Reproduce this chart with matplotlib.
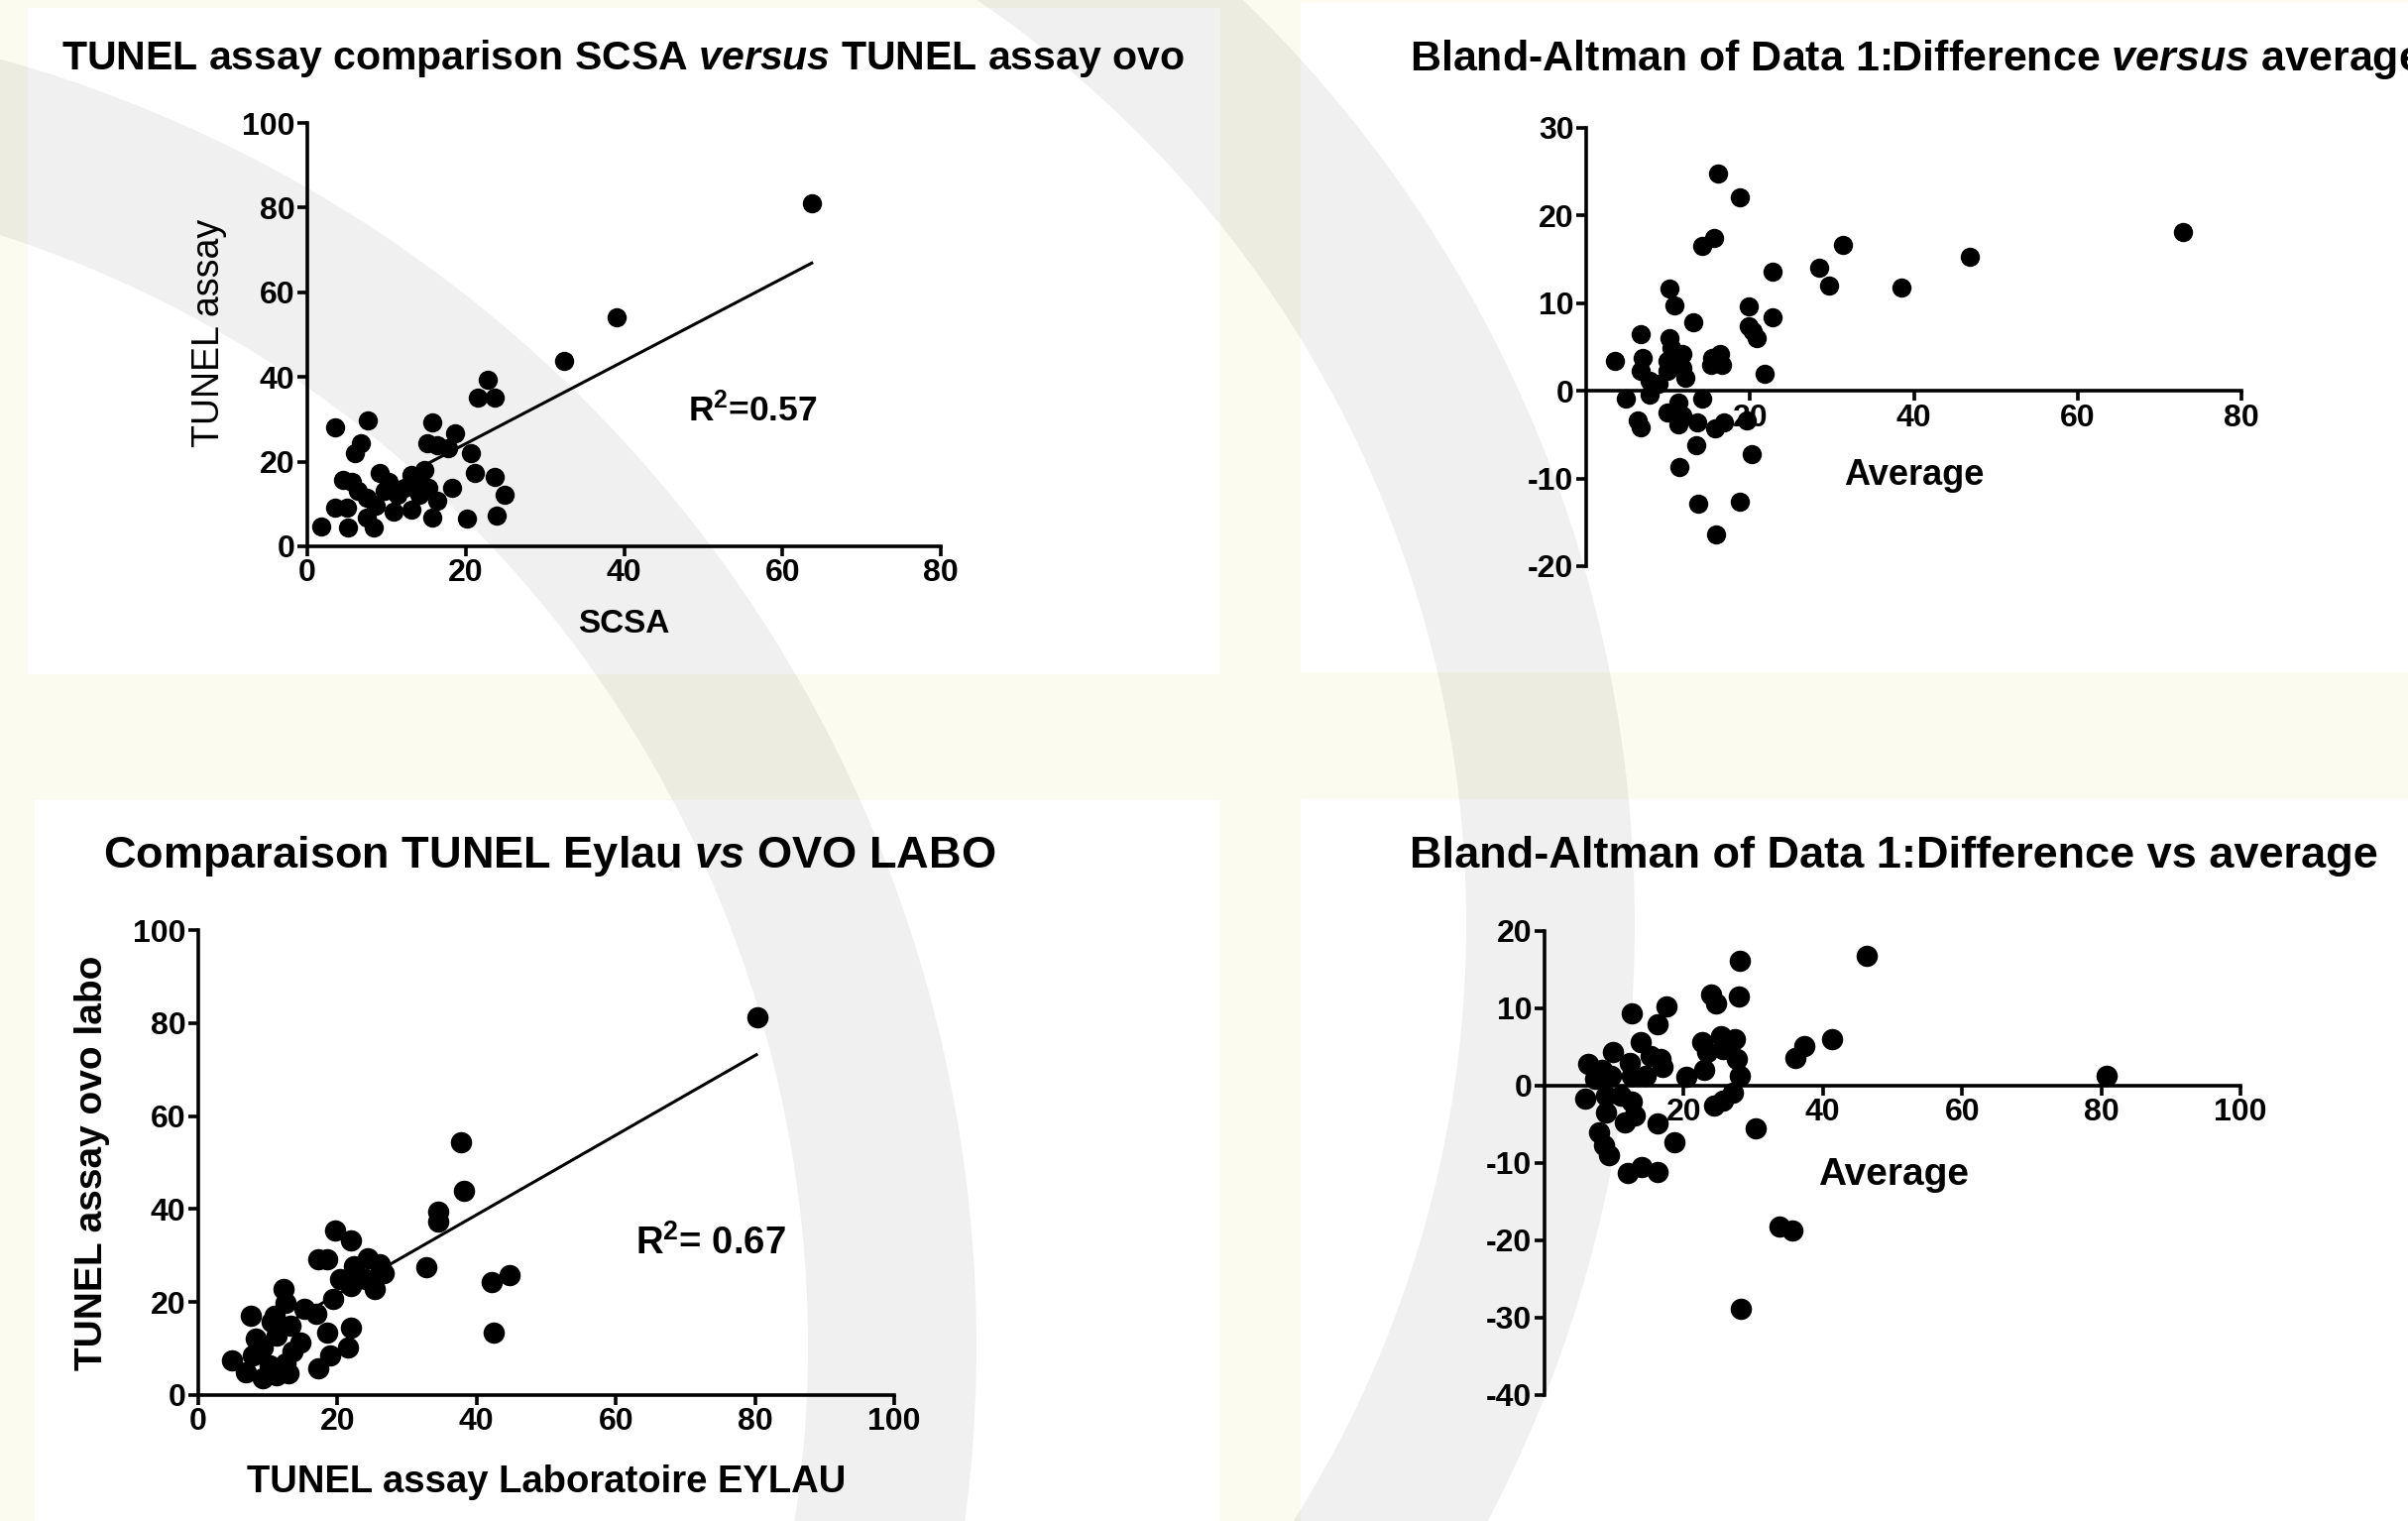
import numpy as np
import matplotlib
matplotlib.use('Agg')
import matplotlib.pyplot as plt
from matplotlib.patches import Rectangle, Wedge
from matplotlib.transforms import IdentityTransform

plt.rcParams['font.family'] = ['Liberation Sans', 'DejaVu Sans']
plt.rcParams['font.weight'] = 'bold'
plt.rcParams['mathtext.fontset'] = 'custom'
plt.rcParams['mathtext.rm'] = 'Liberation Sans:bold'
plt.rcParams['mathtext.it'] = 'Liberation Sans:italic:bold'
plt.rcParams['mathtext.default'] = 'regular'
plt.rcParams['axes.unicode_minus'] = False

# --- panel 1 : SCSA vs TUNEL assay ovo
scsa = [63.7, 39.0, 32.4, 22.8, 21.5, 23.7, 3.5, 7.6, 6.8, 6.0, 15.8, 18.6, 15.2, 16.4,
        17.8, 20.6, 21.2, 23.6, 24.9, 23.9, 20.2, 18.3, 14.8, 13.1, 4.5, 5.6, 9.2, 3.5,
        1.7, 5.1, 8.4, 7.5, 10.9, 13.1, 15.8, 16.4, 14.2, 11.4, 9.8, 7.5, 6.4, 5.0, 8.6,
        12.3, 13.7, 15.3, 10.3]
tunel_ovo = [81.1, 54.1, 43.7, 39.3, 35.2, 35.2, 28.2, 29.7, 24.3, 21.9, 29.3, 26.8, 24.3, 23.9,
             23.1, 22.1, 17.3, 16.3, 12.2, 7.2, 6.6, 13.8, 18.1, 16.9, 15.7, 15.3, 17.3, 9.1,
             4.8, 4.4, 4.4, 6.8, 8.3, 8.7, 6.8, 10.7, 12.2, 12.2, 13.0, 11.4, 13.0, 9.1, 9.5,
             13.8, 15.3, 13.8, 15.3]
fit1_x = [13.0, 63.7]
fit1_y = [17.4, 66.9]

# --- panel 2 : Bland-Altman 1
avg1 = [16.1, 18.8, 72.8, 15.6, 14.2, 31.3, 46.8, 28.5, 22.8, 29.7, 38.5, 10.2, 10.8, 19.8,
        22.8, 13.1, 19.9, 20.3, 20.8, 6.6, 10.2, 3.5, 6.9, 6.6, 10.4, 11.8, 9.9, 11.8, 9.9,
        12.1, 7.7, 8.8, 16.3, 15.4, 15.2, 16.6, 21.8, 7.7, 4.9, 14.1, 11.3, 9.9, 11.8, 6.3,
        6.7, 11.3, 13.5, 15.7, 16.8, 19.6, 13.4, 20.2, 11.4, 13.7, 18.8, 15.8]
diff1 = [24.8, 22.1, 18.1, 17.5, 16.5, 16.6, 15.3, 14.1, 13.6, 12.0, 11.8, 11.7, 9.8, 9.6,
         8.4, 7.8, 7.4, 6.8, 6.0, 6.5, 6.0, 3.4, 3.8, 2.3, 4.9, 4.2, 3.4, 2.6, 2.3,
         1.5, 1.1, 0.8, 4.2, 3.8, 3.0, 3.0, 1.9, -0.4, -0.9, -0.9, -1.3, -2.5, -2.8, -3.4,
         -4.2, -3.8, -3.6, -4.3, -3.6, -3.4, -6.2, -7.2, -8.7, -12.9, -12.6, -16.4]

# --- panel 3 : TUNEL Eylau vs OVO labo
eylau = [80.3, 37.8, 38.2, 34.5, 34.5, 32.8, 42.1, 44.8, 42.5, 19.6, 21.9, 18.5, 17.3, 24.4,
         26.1, 26.7, 22.4, 20.4, 24.1, 25.4, 22.0, 19.4, 12.3, 12.6, 15.3, 17.0, 7.6, 11.0,
         18.5, 21.9, 21.5, 19.0, 17.2, 4.9, 6.9, 8.3, 9.3, 11.3, 14.7, 13.6, 10.3, 11.3,
         13.0, 12.6, 9.3, 7.9, 13.3, 10.6]
ovo_labo = [81.3, 54.3, 43.9, 39.5, 37.4, 27.4, 24.4, 25.8, 13.4, 35.4, 33.3, 29.3, 29.3, 29.5,
            28.1, 26.3, 27.8, 24.9, 24.9, 22.8, 23.5, 20.6, 22.8, 19.9, 18.5, 17.4, 17.1, 17.1,
            13.5, 14.6, 10.3, 8.5, 5.7, 7.5, 5.0, 12.1, 10.3, 12.8, 11.4, 9.3, 6.4, 4.3,
            4.6, 6.8, 3.6, 8.5, 14.9, 15.7]
fit3_x = [12.0, 80.2]
fit3_y = [14.8, 73.2]

# --- panel 4 : Bland-Altman 2
avg2 = [28.0, 46.3, 27.9, 24.0, 24.7, 17.5, 12.6, 16.3, 13.8, 41.3, 37.3, 36.1, 80.8, 22.7,
        25.4, 27.4, 23.3, 25.7, 27.7, 28.0, 23.0, 20.3, 16.6, 15.3, 16.9, 9.9, 6.2, 8.2,
        12.2, 12.6, 14.6, 7.2, 9.5, 5.9, 8.9, 27.0, 24.3, 25.7, 12.6, 12.9, 11.6, 8.9,
        16.3, 30.3, 18.6, 7.9, 8.5, 9.2, 11.9, 13.9, 16.3, 33.8, 35.6, 28.2, 10.9]
diff2 = [16.2, 16.8, 11.6, 11.8, 10.7, 10.3, 9.4, 7.9, 5.6, 6.0, 5.1, 3.6, 1.3, 5.6,
         6.4, 6.0, 4.3, 4.7, 3.4, 1.3, 2.1, 1.1, 3.4, 3.8, 2.4, 4.3, 2.8, 2.1,
         3.0, 1.3, 1.3, 0.9, 1.3, -1.7, -1.3, -0.9, -2.6, -1.9, -2.1, -3.8, -4.7, -3.4,
         -4.9, -5.5, -7.3, -6.0, -7.7, -9.0, -11.3, -10.5, -11.2, -18.2, -18.7, -28.9, -1.3]

W, H = 2429, 1534
fig = plt.figure(figsize=(W / 100, H / 100), dpi=100)
fig.patch.set_facecolor('#FBFBEF')

# white panels and the grey arcs of the slide background (pixel coordinates)
for x0, y0, x1, y1 in [(28, 8, 1231, 680), (1312, 3, 2429, 678),
                       (35, 807, 1231, 1534), (1312, 806, 2429, 1534)]:
    fig.patches.append(Rectangle((x0, H - y1), x1 - x0, y1 - y0, transform=IdentityTransform(),
                                 fc='white', ec='none', zorder=-3))
for cx, cy, r in [(-362, 1357, 1347), (352, 932, 1297)]:
    fig.patches.append(Wedge((cx, H - cy), r, 0, 360, width=170, transform=IdentityTransform(),
                             fc=(0, 0, 0, 0.06), ec='none', zorder=-2))


def px_axes(x0, y0, x1, y1):
    return fig.add_axes([x0 / W, 1 - y1 / H, (x1 - x0) / W, (y1 - y0) / H])


def style(ax, fs):
    ax.set_facecolor('none')
    ax.spines['top'].set_visible(False)
    ax.spines['right'].set_visible(False)
    ax.spines['left'].set_linewidth(2.6)
    ax.spines['bottom'].set_linewidth(2.6)
    ax.tick_params(width=2.6, length=7, labelsize=fs, pad=2)


# panel 1
ax1 = px_axes(310, 124, 949, 551)
style(ax1, 23)
ax1.plot(fit1_x, fit1_y, color='black', lw=2.2)
ax1.plot(scsa, tunel_ovo, 'o', color='black', ms=14, mew=0, clip_on=False)
ax1.set_xlim(0, 80)
ax1.set_ylim(0, 100)
ax1.set_xticks([0, 20, 40, 60, 80])
ax1.set_yticks([0, 20, 40, 60, 80, 100])
ax1.text(56.3, 32.1, 'R$^2$=0.57', fontsize=25.5, ha='center', va='center')
ax1.text(0.5, -0.183, 'SCSA', transform=ax1.transAxes, fontsize=24, ha='center', va='center')
ax1.text(-0.155, 0.503, 'TUNEL assay', transform=ax1.transAxes, fontsize=27, fontweight='normal',
         rotation=90, ha='center', va='center')
fig.text(62 / W, 1 - 59 / H, r'TUNEL assay comparison SCSA $\mathit{versus}$ TUNEL assay ovo',
         fontsize=29.5, ha='left', va='center')

# panel 2
ax2 = px_axes(1600, 129, 2261, 571)
style(ax2, 23)
ax2.spines['bottom'].set_position(('data', 0))
ax2.plot(avg1, diff1, 'o', color='black', ms=14, mew=0, clip_on=False)
ax2.set_xlim(0, 80)
ax2.set_ylim(-20, 30)
ax2.set_xticks([20, 40, 60, 80])
ax2.set_yticks([-20, -10, 0, 10, 20, 30])
ax2.text(40, -9.6, 'Average', fontsize=26, ha='center', va='center')
# title runs past the right edge of the slide, as in the original
fig.text(1422 / W, 1 - 60 / H, r'Bland-Altman of Data 1:Difference $\mathit{versus}$ average',
         fontsize=31, ha='left', va='center')

# panel 3
ax3 = px_axes(200, 938, 902, 1407)
style(ax3, 23)
ax3.plot(fit3_x, fit3_y, color='black', lw=2.2)
ax3.plot(eylau, ovo_labo, 'o', color='black', ms=15.5, mew=0, clip_on=False)
ax3.set_xlim(0, 100)
ax3.set_ylim(0, 100)
ax3.set_xticks([0, 20, 40, 60, 80, 100])
ax3.set_yticks([0, 20, 40, 60, 80, 100])
ax3.text(73.6, 32.7, 'R$^2$= 0.67', fontsize=27.5, ha='center', va='center')
ax3.text(0.5, -0.188, 'TUNEL assay Laboratoire EYLAU', transform=ax3.transAxes, fontsize=27.5,
         ha='center', va='center')
ax3.text(-0.152, 0.5, 'TUNEL assay ovo labo', transform=ax3.transAxes, fontsize=28,
         rotation=90, ha='center', va='center')
fig.text(104 / W, 1 - 864 / H, r'Comparaison TUNEL Eylau $\mathit{vs}$ OVO LABO',
         fontsize=32.5, ha='left', va='center')

# panel 4
ax4 = px_axes(1558, 939, 2260, 1407)
style(ax4, 23)
ax4.spines['bottom'].set_position(('data', 0))
ax4.plot(avg2, diff2, 'o', color='black', ms=15.5, mew=0, clip_on=False)
ax4.set_xlim(0, 100)
ax4.set_ylim(-40, 20)
ax4.set_xticks([20, 40, 60, 80, 100])
ax4.set_yticks([-40, -30, -20, -10, 0, 10, 20])
ax4.text(50.2, -11.5, 'Average', fontsize=28, ha='center', va='center')
fig.text(1422 / W, 1 - 864 / H, 'Bland-Altman of Data 1:Difference vs average',
         fontsize=32.5, ha='left', va='center')

fig.savefig('out.png', dpi=100, facecolor=fig.get_facecolor())
